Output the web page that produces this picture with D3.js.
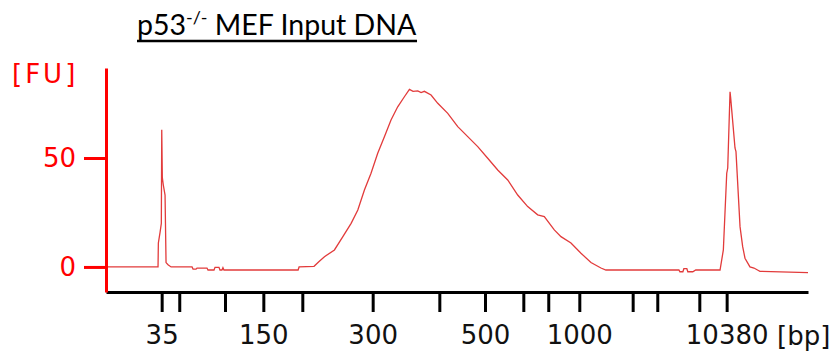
<!DOCTYPE html>
<meta charset="utf-8">
<style>
body { margin: 0; background: #fff; }
.trace { fill: none; stroke: #e23b3b; stroke-width: 1.3px; }
</style>
<body>
<script src="https://d3js.org/d3.v7.min.js"></script>
<script>

// ladder peaks (bp) and their migration times (s)
var ladderBp   = [35, 50, 100, 150, 200, 300, 400, 500, 600, 700, 1000, 2000, 3000, 7000, 10380];
var ladderTime = [46.74, 48.87, 54.41, 59.05, 63.77, 72.29, 80.36, 85.89, 90.53, 93.55, 97.31, 103.77, 106.75, 111.84, 115.15];
var labeledBp  = [35, 150, 300, 500, 1000, 10380];
var fuTicks    = [0, 50];

// electropherogram: migration time (s) and fluorescence (FU)
var traceTime = [40, 46.3, 46.34, 46.55, 46.7, 46.75, 46.82, 46.94, 47.15, 47.27, 47.51, 47.88,
  50.42, 50.54, 50.9, 51.02, 52.23, 52.35, 53.08, 53.2, 53.68, 53.8, 54.04, 54.16, 54.28, 55.37,
  63.26, 63.38, 65.19, 65.8, 66.45, 67.66, 68.68, 69.68, 70.49, 71.29, 72.09, 72.9, 73.71, 74.51,
  75.32, 76.13, 76.74, 77.18, 77.75, 78.15, 78.55, 79.36, 80.17, 81.38, 82.59, 83.8, 85.01, 86.22,
  87.43, 88.64, 89.85, 91.06, 92.27, 93.07, 94.28, 95.09, 96.3, 97.51, 98.72, 99.93, 100.53,
  109.37, 109.49, 109.85, 109.97, 110.33, 110.45, 111.05, 111.41, 114.1, 114.35, 114.75, 115.16,
  115.28, 115.56, 115.64, 116.16, 116.28, 116.77, 117.09, 117.37, 117.97, 118.46, 118.94, 119.18, 125];
var traceFU = [0, 0, 11, 16, 20, 63, 41, 37.6, 33, 2, 1, 0,
  0, -1, -1, -0.5, -0.5, -1.4, -1.4, -0.2, -0.2, -1.4, -1.4, -0.3, -1.4, -1.4,
  -1.4, 0, 0.3, 2.5, 4.7, 7.8, 13.9, 20, 26.1, 35.3, 43, 52.2, 59.8, 67.4,
  73.5, 78.1, 81.5, 80.6, 80.8, 80, 80.6, 78.9, 75.1, 70.5, 64.4, 59.8, 55.2, 49.9,
  44.5, 39.9, 33, 27.7, 23.9, 23.1, 17, 13.9, 11, 6.3, 2, -0.5, -1.4,
  -1.4, -2.2, -2.2, -0.8, -0.8, -2.2, -2.2, -1.4, -1.4, -1.4, 7.8, 43, 45.4,
  80.4, 77.5, 54.6, 52.9, 18.5, 9.3, 4, 0, -0.5, -1.5, -2, -2.6, -2.6];

var width = 839, height = 354;
var plotLeft = 106, plotRight = 808, plotTop = 68, plotBottom = 292;

var x = d3.scaleLinear().domain([40, 125]).range([plotLeft, plotRight]);
var y = d3.scaleLinear().domain([-11.5, 91.3]).range([plotBottom, plotTop]);

var svg = d3.select("body").append("svg")
    .attr("width", width)
    .attr("height", height);

// title
var title = svg.append("text")
    .attr("x", 137)
    .attr("y", 35)
    .style("font-family", "Lato, 'Open Sans', sans-serif")
    .style("font-size", "28.5px")
    .style("fill", "#000");
title.append("tspan").text("p53");
title.append("tspan").attr("dy", -11).style("font-size", "18px").text("-/-");
title.append("tspan").attr("dy", 11).text(" MEF Input DNA");
var tb = title.node().getBBox();
svg.append("line")
    .attr("x1", tb.x).attr("x2", tb.x + tb.width)
    .attr("y1", 41).attr("y2", 41)
    .style("stroke", "#000").style("stroke-width", 2.5);

// trace
var line = d3.line()
    .x(function(d) { return x(d[0]); })
    .y(function(d) { return y(d[1]); });

svg.append("path")
    .datum(d3.zip(traceTime, traceFU))
    .attr("class", "trace")
    .attr("d", line);

// x axis
var xAxis = svg.append("g")
    .attr("transform", "translate(0," + plotBottom + ")")
    .call(d3.axisBottom(x)
      .tickValues(ladderTime)
      .tickSize(20)
      .tickSizeOuter(0)
      .tickPadding(14)
      .tickFormat(function(d, i) { return labeledBp.indexOf(ladderBp[i]) >= 0 ? ladderBp[i] : ""; }));
xAxis.select(".domain").style("stroke", "#000").style("stroke-width", 3);
xAxis.selectAll(".tick line").style("stroke", "#000").style("stroke-width", 3);
xAxis.selectAll(".tick text")
    .style("font-family", "'DejaVu Sans', Verdana, sans-serif")
    .style("font-size", "26px")
    .style("fill", "#111");

svg.append("text")
    .attr("x", 777)
    .attr("y", 345)
    .style("font-family", "'DejaVu Sans', Verdana, sans-serif")
    .style("font-size", "26px")
    .style("fill", "#111")
    .text("[bp]");

// y axis
var yAxis = svg.append("g")
    .attr("transform", "translate(" + plotLeft + ",0)")
    .call(d3.axisLeft(y)
      .tickValues(fuTicks)
      .tickSize(22)
      .tickSizeOuter(0)
      .tickPadding(8));
yAxis.select(".domain").style("stroke", "#f00").style("stroke-width", 3);
yAxis.selectAll(".tick line").style("stroke", "#f00").style("stroke-width", 3);
yAxis.selectAll(".tick text")
    .style("font-family", "'DejaVu Sans', Verdana, sans-serif")
    .style("font-size", "26px")
    .style("fill", "#f00");

svg.append("text")
    .attr("x", 12)
    .attr("y", 83)
    .style("font-family", "'DejaVu Sans', Verdana, sans-serif")
    .style("font-size", "26px")
    .style("letter-spacing", "3px")
    .style("fill", "#f00")
    .text("[FU]");

</script>
</body>
